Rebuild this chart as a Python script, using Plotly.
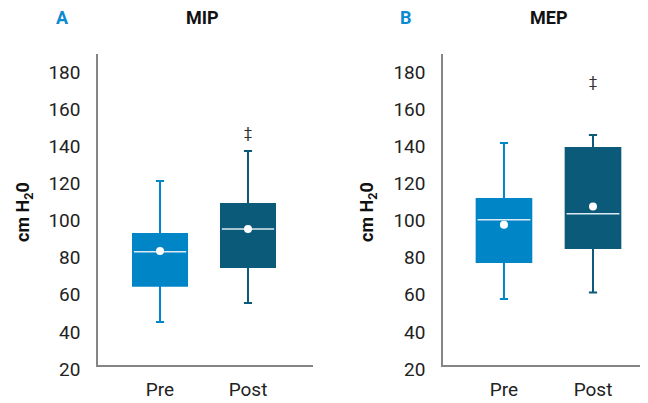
import plotly.graph_objects as go

categories = ["Pre", "Post"]
y_ticks = [20, 40, 60, 80, 100, 120, 140, 160, 180]

# Panel A: MIP
mip_lower = [43.2, 53.4]
mip_q1 = [62.7, 72.8]
mip_median = [81.0, 93.3]
mip_q3 = [90.6, 106.7]
mip_upper = [119.1, 135.3]
mip_mean = [81.4, 93.3]
mip_sig_y = 144.5

# Panel B: MEP
mep_lower = [55.6, 59.0]
mep_q1 = [75.5, 83.0]
mep_median = [98.2, 101.5]
mep_q3 = [109.4, 136.9]
mep_upper = [139.6, 143.9]
mep_mean = [95.5, 105.3]
mep_sig_y = 171.9

colors = ["#0085C7", "#0B5A79"]
BOXW = 0.614
FONT = "Roboto"

fig = go.Figure()

panels = [
    ("x", "y", mip_lower, mip_q1, mip_median, mip_q3, mip_upper, mip_mean, mip_sig_y),
    ("x2", "y2", mep_lower, mep_q1, mep_median, mep_q3, mep_upper, mep_mean, mep_sig_y),
]
for xa, ya, lo, q1, med, q3, up, mean, sig in panels:
    for i, cat in enumerate(categories):
        c = colors[i]
        fig.add_trace(go.Box(
            x=[i], q1=[q1[i]], median=[med[i]], q3=[q3[i]],
            lowerfence=[lo[i]], upperfence=[up[i]],
            width=BOXW, whiskerwidth=0.15, fillcolor=c,
            line=dict(color=c, width=2), boxpoints=False,
            xaxis=xa, yaxis=ya, showlegend=False, hoverinfo="skip", name=cat,
        ))
        fig.add_trace(go.Scatter(
            x=[i - BOXW / 2 + 0.01, i + BOXW / 2 - 0.01], y=[med[i], med[i]],
            mode="lines", line=dict(color="#DDEBF3", width=1.5),
            xaxis=xa, yaxis=ya, showlegend=False, hoverinfo="skip",
        ))
    fig.add_trace(go.Scatter(
        x=list(range(len(categories))), y=mean, mode="markers",
        marker=dict(color="white", size=8),
        xaxis=xa, yaxis=ya, showlegend=False, hoverinfo="skip",
    ))
    fig.add_trace(go.Scatter(
        x=[1], y=[sig], mode="text", text=["‡"],
        textfont=dict(family=FONT, size=15, color="#333333"),
        xaxis=xa, yaxis=ya, showlegend=False, hoverinfo="skip",
    ))

# page has an 8px body margin: figure drawn from (8, 8)
OFF = 8
W, H = 648 - OFF, 403 - OFF

def px(x):
    return (x - OFF) / W

def py(y):
    return 1 - (y - OFF) / H

ydom = [py(365), py(54)]

yax = dict(range=[20, 187.5], tickvals=y_ticks, showgrid=False, zeroline=False,
           showline=True, linecolor="#858585", linewidth=1.5, ticks="",
           ticklabelstandoff=12, ticklabelshift=4, automargin=False,
           tickfont=dict(family=FONT, size=19, color="#222222"), domain=ydom)
xax = dict(tickvals=[0, 1], ticktext=categories, showgrid=False, zeroline=False,
           showline=True, linecolor="#858585", linewidth=1.5, ticks="",
           ticklabelstandoff=6, automargin=False,
           tickfont=dict(family=FONT, size=19, color="#222222"))

fig.update_layout(
    width=W, height=H, margin=dict(l=0, r=0, t=0, b=0, autoexpand=False),
    paper_bgcolor="white", plot_bgcolor="white",
    xaxis=dict(xax, range=[-0.705, 1.739], domain=[px(98), px(313)], anchor="y"),
    yaxis=dict(yax, anchor="x"),
    xaxis2=dict(xax, range=[-0.685, 1.618], domain=[px(443), 1.0], anchor="y2"),
    yaxis2=dict(yax, anchor="x2"),
)

def ann(text, x, y, size, color, angle=0):
    fig.add_annotation(text=text, x=px(x), y=py(y), xref="paper", yref="paper",
                       showarrow=False, textangle=angle, xanchor="center", yanchor="middle",
                       font=dict(family=FONT, size=size, color=color))

ann("<b>A</b>", 62, 17, 18, "#0A8AD0")
ann("<b>MIP</b>", 202, 17, 18, "#111111")
ann("<b>B</b>", 406, 17, 18, "#0A8AD0")
ann("<b>MEP</b>", 549, 17, 18, "#111111")
ann("<b>cm H<sub>2</sub>0</b>", 24, 212, 18, "#111111", -90)
ann("<b>cm H<sub>2</sub>0</b>", 368, 212, 18, "#111111", -90)

fig.write_html("out.html")
